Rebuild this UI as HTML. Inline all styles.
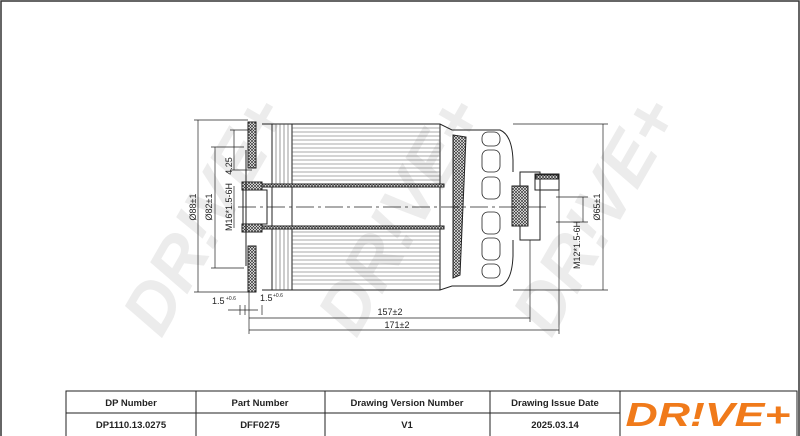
<!DOCTYPE html>
<html><head><style>
html,body{margin:0;padding:0;background:#fff;}
svg{display:block;}
text{font-family:"Liberation Sans",sans-serif;}
</style></head><body>
<svg width="800" height="436" viewBox="0 0 800 436" xmlns="http://www.w3.org/2000/svg">
<defs>
<pattern id="hx" width="3" height="3" patternUnits="userSpaceOnUse">
<rect width="3" height="3" fill="#fff"/><path d="M0 0L3 3M3 0L0 3" stroke="#333" stroke-width="0.7"/>
</pattern>
</defs>
<rect x="1" y="1" width="798" height="440" fill="none" stroke="#333" stroke-width="1.5"/>
<g fill="#ececec" font-weight="bold" font-size="70" font-style="italic">
<text transform="translate(210,218) rotate(-60)" text-anchor="middle" dominant-baseline="middle">DR!VE+</text>
<text transform="translate(405,218) rotate(-60)" text-anchor="middle" dominant-baseline="middle">DR!VE+</text>
<text transform="translate(600,218) rotate(-60)" text-anchor="middle" dominant-baseline="middle">DR!VE+</text>
</g>
<g stroke="#222" fill="none" stroke-width="1">
<path d="M262 124 H440 L452 130 H500 Q512 135 513 160 V172 M513 240 V256 Q512 282 500 286 H452 L440 290 H262"/>
<line x1="272" y1="124" x2="272" y2="290"/>
<line x1="292" y1="124" x2="292" y2="290"/>
<line x1="440" y1="124" x2="440" y2="290"/>
<g stroke="#555" stroke-width="0.6">
<path d="M292 128H440M292 132H440M292 136H440M292 140H440M292 144H440M292 148H440M292 152H440M292 156H440M292 160H440M292 164H440M292 168H440M292 172H440M292 176H440M292 180H440"/>
<path d="M292 232H440M292 236H440M292 240H440M292 244H440M292 248H440M292 252H440M292 256H440M292 260H440M292 264H440M292 268H440M292 272H440M292 276H440M292 280H440M292 284H440"/>
<path d="M276 124V185M280 124V185M284 124V185M288 124V185M276 228V290M280 228V290M284 228V290M288 228V290"/>
</g>
<rect x="262" y="184" width="182" height="3" fill="url(#hx)"/>
<rect x="262" y="226" width="182" height="3" fill="url(#hx)"/>
<rect x="248" y="122" width="8" height="46" fill="url(#hx)"/>
<rect x="248" y="246" width="8" height="46" fill="url(#hx)"/>
<rect x="242" y="182" width="20" height="8" fill="url(#hx)"/>
<rect x="242" y="224" width="20" height="8" fill="url(#hx)"/>
<line x1="246" y1="150" x2="246" y2="266"/>
<rect x="243" y="190" width="24" height="34"/>
<path d="M453 135 L466 137 L460 275 L453 278 Z" fill="url(#hx)"/>
<g stroke-width="0.8">
<rect x="482" y="132" width="18" height="14" rx="6"/>
<rect x="482" y="150" width="18" height="22" rx="6"/>
<rect x="482" y="177" width="18" height="22" rx="6"/>
<rect x="482" y="212" width="18" height="22" rx="6"/>
<rect x="482" y="238" width="18" height="22" rx="6"/>
<rect x="482" y="264" width="18" height="14" rx="6"/>
</g>
<rect x="520" y="172" width="20" height="68"/>
<rect x="512" y="186" width="16" height="40" fill="url(#hx)"/>
<rect x="535" y="174" width="24" height="16"/>
<rect x="536" y="175" width="22" height="4" fill="url(#hx)"/>
<path d="M238 207H550" stroke-dasharray="18 4 3 4" stroke-width="0.8"/>
<g stroke-width="0.7">
<path d="M198 120V292M194 120H248M194 292H248"/>
<path d="M215 147V268M211 147H244M211 268H244"/>
<path d="M234 130V170M230 130H252M230 170H252"/>
<path d="M234 186V228"/>
<path d="M603 124V290M513 124H608M513 290H608"/>
<path d="M583 197V222M556 197H588M556 222H588"/>
<path d="M249 292V334M530 240V322M559 190V334"/>
<path d="M249 318H530M249 330H559"/>
<path d="M240 305V315M245 305V315M228 310H258M262 305V315"/>
</g>
</g>
<g font-size="9" fill="#222">
<text transform="translate(196,207) rotate(-90)" text-anchor="middle">Ø88±1</text>
<text transform="translate(212,207) rotate(-90)" text-anchor="middle">Ø82±1</text>
<text transform="translate(232,207) rotate(-90)" text-anchor="middle">M16*1.5-6H</text>
<text transform="translate(232,166) rotate(-90)" text-anchor="middle">4.25</text>
<text transform="translate(600,207) rotate(-90)" text-anchor="middle">Ø65±1</text>
<text transform="translate(580,245) rotate(-90)" text-anchor="middle">M12*1.5-6H</text>
<text x="390" y="315" text-anchor="middle">157±2</text>
<text x="397" y="328" text-anchor="middle">171±2</text>
<text x="212" y="304">1.5</text><text x="226" y="300" font-size="5">+0.6</text>
<text x="260" y="301">1.5</text><text x="273" y="297" font-size="5">+0.6</text>
</g>
<g stroke="#222" fill="none" stroke-width="1">
<rect x="66" y="391" width="731" height="46"/>
<line x1="66" y1="413" x2="620" y2="413"/>
<line x1="196" y1="391" x2="196" y2="436"/>
<line x1="325" y1="391" x2="325" y2="436"/>
<line x1="490" y1="391" x2="490" y2="436"/>
<line x1="620" y1="391" x2="620" y2="436"/>
</g>
<g font-size="9.5" font-weight="bold" fill="#222" text-anchor="middle">
<text x="131" y="406">DP Number</text>
<text x="260" y="406">Part Number</text>
<text x="407" y="406">Drawing Version Number</text>
<text x="555" y="406">Drawing Issue Date</text>
<text x="131" y="428">DP1110.13.0275</text>
<text x="260" y="428">DFF0275</text>
<text x="407" y="428">V1</text>
<text x="555" y="428">2025.03.14</text>
</g>
<text x="708" y="426" text-anchor="middle" font-size="33" font-weight="bold" font-style="italic" fill="#f07a1a" textLength="165" lengthAdjust="spacingAndGlyphs">DR!VE+</text>
</svg>
</body></html>
